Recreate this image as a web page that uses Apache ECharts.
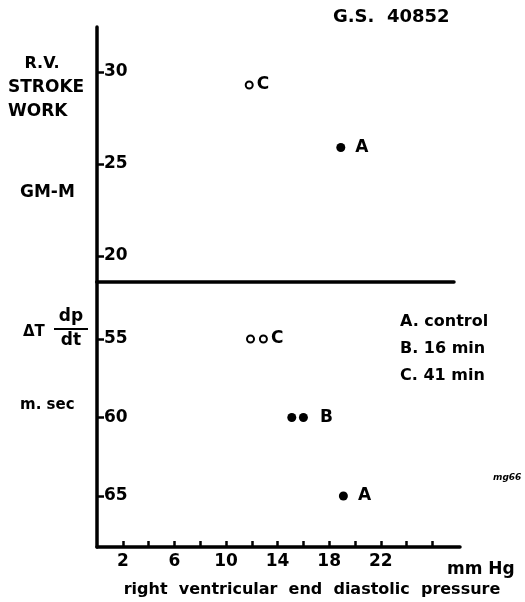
<!DOCTYPE html>
<html>
<head>
<meta charset="utf-8">
<script src="https://cdn.jsdelivr.net/npm/echarts@6/dist/echarts.min.js"></script>
<style>
  html, body { margin: 0; padding: 0; background: #fff; }
  #chart { width: 525px; height: 602px; }
</style>
</head>
<body>
<div id="chart"></div>
<script>
// stroke work panel (top)
const workTicks = [20, 25, 30];
const workOpen = [[11.8, 29.3]]; // C
const workFilled = [[18.9, 25.9]]; // A

// delta T dp/dt panel (bottom)
const dtTicks = [55, 60, 65];
const dtOpen = [[11.9, 55], [12.9, 55]]; // C
const dtFilledB = [[15.1, 60], [16.0, 60]]; // B
const dtFilledA = [[19.1, 65]]; // A

// pressure axis
const xTicks = [2, 4, 6, 8, 10, 12, 14, 16, 18, 20, 22, 24, 26];
const xLabels = [2, 6, 10, 14, 18, 22];

const FONT = "DejaVu Sans";
const W = "bold";
const chart = echarts.init(document.getElementById("chart"));

function lastLabel(points, text, dist) {
  return points.map((p, i) =>
    i === points.length - 1
      ? { value: p, label: { show: true, position: "right", distance: dist, formatter: text } }
      : { value: p }
  );
}

const pointLabel = {
  color: "#000",
  fontFamily: FONT,
  fontWeight: W,
  fontSize: 17,
};

const tickLabel = {
  color: "#000",
  fontFamily: FONT,
  fontWeight: W,
  fontSize: 17,
};

function txt(x, y, text, size, align, extra) {
  return {
    type: "text",
    x: x,
    y: y,
    style: Object.assign(
      {
        text: text,
        fill: "#000",
        font: W + " " + size + "px " + FONT,
        align: align || "left",
        verticalAlign: "middle",
      },
      extra || {}
    ),
  };
}

chart.setOption({
  animation: false,
  backgroundColor: "#fff",
  grid: [
    { left: 97, top: 27, width: 357, height: 255 },
    { left: 97, top: 282, width: 363, height: 265 },
  ],
  xAxis: [
    {
      gridIndex: 0,
      type: "value",
      min: 0,
      max: 357 / 12.9,
      axisLine: { show: true, lineStyle: { color: "#000", width: 3.5 } },
      axisTick: { show: false },
      axisLabel: { show: false },
      splitLine: { show: false },
    },
    {
      gridIndex: 1,
      type: "value",
      min: 0,
      max: 363 / 12.9,
      axisLine: { show: true, lineStyle: { color: "#000", width: 3.5 } },
      axisTick: {
        show: true,
        inside: true,
        length: 6,
        customValues: xTicks,
        lineStyle: { color: "#000", width: 2.5 },
      },
      axisLabel: Object.assign({ show: true, customValues: xLabels, margin: 6 }, tickLabel),
      splitLine: { show: false },
    },
  ],
  yAxis: [
    {
      gridIndex: 0,
      type: "value",
      min: 18.59,
      max: 32.45,
      axisLine: { show: true, lineStyle: { color: "#000", width: 3.5 } },
      axisTick: {
        show: true,
        inside: true,
        length: 7,
        customValues: workTicks,
        lineStyle: { color: "#000", width: 2.5 },
      },
      axisLabel: Object.assign({ show: true, inside: true, margin: 7, customValues: workTicks }, tickLabel),
      splitLine: { show: false },
    },
    {
      gridIndex: 1,
      type: "value",
      inverse: true,
      min: 51.37,
      max: 68.25,
      axisLine: { show: true, lineStyle: { color: "#000", width: 3.5 } },
      axisTick: {
        show: true,
        inside: true,
        length: 7,
        customValues: dtTicks,
        lineStyle: { color: "#000", width: 2.5 },
      },
      axisLabel: Object.assign({ show: true, inside: true, margin: 7, customValues: dtTicks }, tickLabel),
      splitLine: { show: false },
    },
  ],
  series: [
    {
      type: "scatter",
      xAxisIndex: 0,
      yAxisIndex: 0,
      symbolSize: 7,
      itemStyle: { color: "#fff", borderColor: "#000", borderWidth: 2, opacity: 1 },
      label: pointLabel,
      data: lastLabel(workOpen, "C", 3),
    },
    {
      type: "scatter",
      xAxisIndex: 0,
      yAxisIndex: 0,
      symbolSize: 9,
      itemStyle: { color: "#000", opacity: 1 },
      label: pointLabel,
      data: lastLabel(workFilled, "A", 10),
    },
    {
      type: "scatter",
      xAxisIndex: 1,
      yAxisIndex: 1,
      symbolSize: 7,
      itemStyle: { color: "#fff", borderColor: "#000", borderWidth: 2, opacity: 1 },
      label: pointLabel,
      data: lastLabel(dtOpen, "C", 3),
    },
    {
      type: "scatter",
      xAxisIndex: 1,
      yAxisIndex: 1,
      symbolSize: 9,
      itemStyle: { color: "#000", opacity: 1 },
      label: pointLabel,
      data: lastLabel(dtFilledB, "B", 12),
    },
    {
      type: "scatter",
      xAxisIndex: 1,
      yAxisIndex: 1,
      symbolSize: 9,
      itemStyle: { color: "#000", opacity: 1 },
      label: pointLabel,
      data: lastLabel(dtFilledA, "A", 10),
    },
  ],
  graphic: [
    txt(333, 17, "G.S.  40852", 18),
    txt(42, 64, "R.V.", 16, "center"),
    txt(8, 88, "STROKE", 17),
    txt(8, 112, "WORK", 17),
    txt(20, 193, "GM-M", 17),
    txt(23, 332, "ΔT", 15),
    txt(71, 317, "dp", 17, "center"),
    txt(71, 341, "dt", 17, "center"),
    {
      type: "line",
      shape: { x1: 54, y1: 329, x2: 88, y2: 329 },
      style: { stroke: "#000", lineWidth: 2 },
    },
    txt(20, 405, "m. sec", 15),
    txt(400, 322, "A. control", 16),
    txt(400, 349, "B. 16 min", 16),
    txt(400, 376, "C. 41 min", 16),
    txt(493, 478, "mg66", 9, "left", { font: "italic bold 9px " + FONT }),
    txt(447, 570, "mm Hg", 17),
    txt(312, 590, "right  ventricular  end  diastolic  pressure", 16, "center"),
  ],
});
</script>
</body>
</html>
